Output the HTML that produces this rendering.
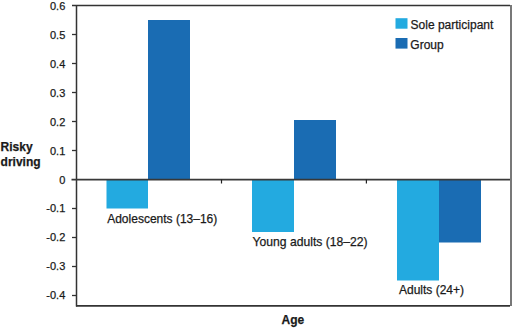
<!DOCTYPE html>
<html><head><meta charset="utf-8">
<style>
html,body{margin:0;padding:0;background:#fff;}
body{width:512px;height:328px;overflow:hidden;position:relative;}
svg{position:absolute;left:0;top:0;}
text{font-family:"Liberation Sans",sans-serif;fill:#1a1a1a;stroke:#1a1a1a;stroke-width:0.25px;}
.y{font-size:11px;text-anchor:end;}
.c{font-size:12px;}
.b{font-weight:bold;font-size:12px;}
</style></head>
<body>
<svg width="512" height="328" viewBox="0 0 512 328">
  <!-- bars -->
  <rect x="106.5" y="179.5" width="41.5" height="29" fill="#23aae0"/>
  <rect x="148" y="20" width="42" height="159.5" fill="#1a6cb3"/>
  <rect x="252" y="179.5" width="42" height="52.5" fill="#23aae0"/>
  <rect x="294" y="120" width="42" height="59.5" fill="#1a6cb3"/>
  <rect x="397" y="179.5" width="42" height="101" fill="#23aae0"/>
  <rect x="439" y="179.5" width="42" height="63" fill="#1a6cb3"/>
  <!-- frame -->
  <line x1="72" y1="5.5" x2="510" y2="5.5" stroke="#333" stroke-width="1.5"/>
  <rect x="510" y="5" width="2" height="301" fill="#787878"/>
  <line x1="76.5" y1="5" x2="76.5" y2="306.5" stroke="#333" stroke-width="1.5"/>
  <line x1="76" y1="305.8" x2="510" y2="305.8" stroke="#333" stroke-width="1.7"/>
  <!-- zero line -->
  <line x1="71.5" y1="179.6" x2="510" y2="179.6" stroke="#383838" stroke-width="1.6"/>
  <line x1="221.5" y1="179.5" x2="221.5" y2="183.5" stroke="#222" stroke-width="1.2"/>
  <line x1="366.4" y1="179.5" x2="366.4" y2="183.5" stroke="#222" stroke-width="1.2"/>
  <!-- ticks -->
  <g stroke="#333" stroke-width="1.3">
    <line x1="72" y1="34.5" x2="76" y2="34.5"/>
    <line x1="72" y1="63.5" x2="76" y2="63.5"/>
    <line x1="72" y1="92.5" x2="76" y2="92.5"/>
    <line x1="72" y1="121.5" x2="76" y2="121.5"/>
    <line x1="72" y1="150.5" x2="76" y2="150.5"/>
    <line x1="72" y1="208.5" x2="76" y2="208.5"/>
    <line x1="72" y1="237.5" x2="76" y2="237.5"/>
    <line x1="72" y1="266.5" x2="76" y2="266.5"/>
    <line x1="72" y1="295.5" x2="76" y2="295.5"/>
  </g>
  <!-- y labels -->
  <text class="y" x="65.3" y="10">0.6</text>
  <text class="y" x="65.3" y="39">0.5</text>
  <text class="y" x="65.3" y="68">0.4</text>
  <text class="y" x="65.3" y="97">0.3</text>
  <text class="y" x="65.3" y="126">0.2</text>
  <text class="y" x="65.3" y="155">0.1</text>
  <text class="y" x="65.3" y="183.5">0</text>
  <text class="y" x="65.3" y="212.3">-0.1</text>
  <text class="y" x="65.3" y="241.3">-0.2</text>
  <text class="y" x="65.3" y="270.3">-0.3</text>
  <text class="y" x="65.3" y="299.3">-0.4</text>
  <!-- axis titles -->
  <text class="b" x="0.6" y="151">Risky</text>
  <text class="b" x="0.6" y="165.7">driving</text>
  <text class="b" x="281.5" y="324">Age</text>
  <!-- category labels -->
  <text class="c" x="107.2" y="222.5">Adolescents (13–16)</text>
  <text class="c" x="252.6" y="246.3" style="font-size:12.15px">Young adults (18–22)</text>
  <text class="c" x="399" y="294">Adults (24+)</text>
  <!-- legend -->
  <rect x="395.5" y="18.2" width="12" height="10.5" fill="#23aae0"/>
  <rect x="395.5" y="38" width="12" height="10.6" fill="#1a6cb3"/>
  <text class="c" x="410.6" y="28.8">Sole participant</text>
  <text class="c" x="410.3" y="48.6">Group</text>
</svg>
</body></html>
